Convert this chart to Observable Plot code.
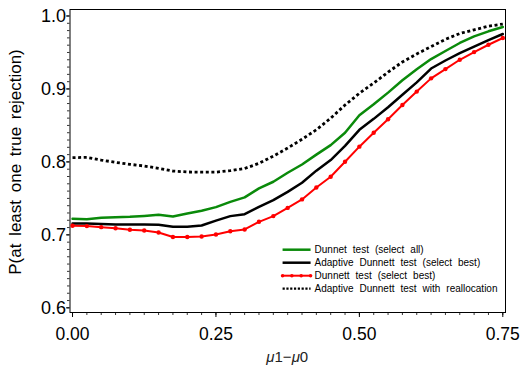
<!DOCTYPE html>
<html><head><meta charset="utf-8">
<script src="https://cdn.jsdelivr.net/npm/d3@7"></script>
<script src="https://cdn.jsdelivr.net/npm/@observablehq/plot@0.6"></script>
<style>
body{margin:0;background:#fff}
#chart svg{display:block}
</style>
</head><body><div id="chart"></div>
<script>
// ---- data ----
const mu = [0.000,0.025,0.050,0.075,0.100,0.125,0.150,0.175,0.200,0.225,0.250,0.275,0.300,0.325,0.350,0.375,0.400,0.425,0.450,0.475,0.500,0.525,0.550,0.575,0.600,0.625,0.650,0.675,0.700,0.725,0.750];
const dunnetAll = [0.722,0.7215,0.7234,0.7243,0.7247,0.726,0.7275,0.7252,0.7293,0.733,0.738,0.7453,0.7514,0.7637,0.7728,0.7852,0.7965,0.810,0.823,0.840,0.864,0.879,0.895,0.912,0.927,0.941,0.952,0.963,0.972,0.979,0.985];
const adaptiveBest = [0.7156,0.7156,0.715,0.7143,0.7143,0.7143,0.714,0.711,0.711,0.7128,0.7195,0.7257,0.7284,0.7385,0.7477,0.759,0.7714,0.788,0.8026,0.822,0.844,0.859,0.875,0.892,0.909,0.928,0.939,0.949,0.958,0.967,0.9753];
const dunnettBest = [0.7124,0.712,0.7106,0.709,0.707,0.706,0.7033,0.697,0.697,0.6978,0.7005,0.705,0.7074,0.7179,0.7257,0.737,0.7486,0.765,0.7797,0.8003,0.8209,0.840,0.8585,0.878,0.8964,0.9145,0.9272,0.940,0.9505,0.9606,0.9698];
const adaptiveRealloc = [0.8058,0.8063,0.8026,0.7994,0.7967,0.7944,0.7912,0.7875,0.7862,0.786,0.786,0.788,0.791,0.798,0.808,0.819,0.831,0.844,0.860,0.878,0.894,0.908,0.923,0.937,0.948,0.958,0.968,0.976,0.981,0.986,0.989];

const seriesNames = ["Dunnet test (select all)","Adaptive Dunnett test (select best)","Dunnett test (select best)","Adaptive Dunnett test with reallocation"];
const xMajorTicks = [0, 0.25, 0.5, 0.75];
const xMinorTicks = [0,0.025,0.05,0.075,0.1,0.125,0.15,0.175,0.2,0.225,0.25,0.275,0.3,0.325,0.35,0.375,0.4,0.425,0.45,0.475,0.5,0.525,0.55,0.575,0.6,0.625,0.65,0.675,0.7,0.725,0.75];
const yMajorTicks = [0.6, 0.7, 0.8, 0.9, 1.0];
const yMinorTicks = d3.range(60, 101).map(v => v / 100);
const yTitle = "P(at least one true rejection)";

const rows = (ys) => mu.map((x, i) => ({x, y: ys[i]}));
const FONT = "'Liberation Sans', Arial, Helvetica, sans-serif";

const plot = Plot.plot({
  width: 521, height: 367,
  marginLeft: 69.5, marginRight: 16, marginTop: 9, marginBottom: 55,
  x: {domain: [-0.0044, 0.7547]},
  y: {domain: [0.5936, 1.0089]},
  style: {fontFamily: FONT, background: "#fff", color: "#000"},
  marks: [
    Plot.axisY(yMinorTicks, {tickSize: 2.5, tickFormat: () => "", label: null, strokeWidth: 0.8}),
    Plot.axisY(yMajorTicks, {tickSize: 3.5, tickPadding: 0.5, tickFormat: d3.format(".1f"), fontSize: 18, label: null}),
    Plot.axisX(xMinorTicks, {tickSize: 3, tickFormat: () => "", label: null, strokeWidth: 0.8}),
    Plot.axisX(xMajorTicks, {tickSize: 5, tickPadding: 10, tickFormat: d3.format(".2f"), fontSize: 17.5, label: null}),
    Plot.frame({stroke: "#000", strokeWidth: 1}),
    Plot.text([yTitle], {frameAnchor: "left", textAnchor: "middle", dx: -54, dy: 1, rotate: -90, fontSize: 17, fill: "#000"}),
    Plot.lineY(rows(adaptiveRealloc), {x: "x", y: "y", stroke: "#000", strokeWidth: 2.8, strokeDasharray: "3,2.6", strokeLinecap: "butt"}),
    Plot.lineY(rows(dunnetAll), {x: "x", y: "y", stroke: "#0a8a0a", strokeWidth: 2.5}),
    Plot.lineY(rows(adaptiveBest), {x: "x", y: "y", stroke: "#000", strokeWidth: 2.5}),
    Plot.lineY(rows(dunnettBest), {x: "x", y: "y", stroke: "#ff0000", strokeWidth: 2}),
    Plot.dot(rows(dunnettBest), {x: "x", y: "y", fill: "#ff0000", r: 2.2})
  ]
});

const svg = d3.select(plot);
svg.selectAll("text").style("font-family", FONT);
svg.style("word-spacing", "3px");

// x-axis title with italic mu
const xs = plot.scale("x"), ysc = plot.scale("y");
const cx = (xs.range[0] + xs.range[1]) / 2;
const bottom = ysc.range[0];
const xt = svg.append("text").attr("x", cx).attr("y", bottom + 50).attr("text-anchor", "middle")
  .attr("font-size", 15).attr("fill", "#222").style("font-family", FONT).style("word-spacing", "0px");
xt.append("tspan").attr("font-style", "italic").text("\u03bc");
xt.append("tspan").text("1\u2212");
xt.append("tspan").attr("font-style", "italic").text("\u03bc");
xt.append("tspan").text("0");

// legend
const styles = [
  {stroke: "#0a8a0a", w: 2.5, dash: null, dots: false},
  {stroke: "#000", w: 2.5, dash: null, dots: false},
  {stroke: "#ff0000", w: 2, dash: null, dots: true},
  {stroke: "#000", w: 2.2, dash: "2.2,1.6", dots: false}
];
const lg = svg.append("g").attr("transform", `translate(${xs.apply(0.367)},${ysc.apply(0.679)})`);
seriesNames.forEach((name, i) => {
  const yy = i * 13;
  const s = styles[i];
  const ln = lg.append("line").attr("x1", 0).attr("x2", 28).attr("y1", yy).attr("y2", yy)
    .attr("stroke", s.stroke).attr("stroke-width", s.w);
  if (s.dash) ln.attr("stroke-dasharray", s.dash);
  if (s.dots) [0, 9.3, 18.6, 28].forEach(dx => lg.append("circle").attr("cx", dx).attr("cy", yy).attr("r", 1.8).attr("fill", s.stroke));
  lg.append("text").attr("x", 32).attr("y", yy).attr("dy", "0.35em").attr("font-size", 10)
    .attr("text-anchor", "start")
    .style("font-family", FONT).style("word-spacing", "3.2px").attr("fill", "#000").text(name);
});

document.getElementById("chart").appendChild(plot);
</script>
</body></html>
